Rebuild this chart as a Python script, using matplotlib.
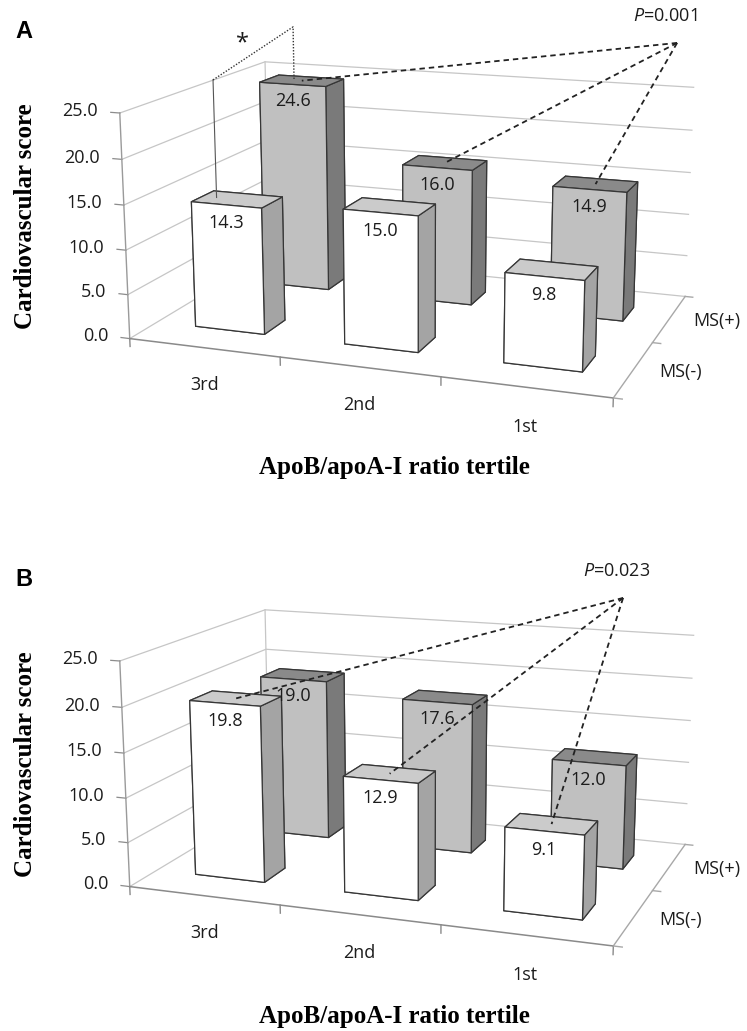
import numpy as np
import matplotlib
matplotlib.use("Agg")
import matplotlib.pyplot as plt
from mpl_toolkits.mplot3d import proj3d

plt.rcParams["font.family"] = ["Open Sans", "DejaVu Sans"]
plt.rcParams["mathtext.fontset"] = "custom"
plt.rcParams["mathtext.it"] = "Open Sans:italic"
plt.rcParams["mathtext.rm"] = "Open Sans"

tertiles = ["3rd", "2nd", "1st"]
groups = ["MS(-)", "MS(+)"]
score_a_neg = [14.3, 15.0, 9.8]
score_a_pos = [24.6, 16.0, 14.9]
score_b_neg = [19.8, 12.9, 9.1]
score_b_pos = [19.0, 17.6, 12.0]
value_ticks = [0, 5, 10, 15, 20, 25]
p_text_a = "$P$=0.001"
p_text_b = "$P$=0.023"

W, H = 747, 1031
# camera tuned so the box sits like the Excel 3-D column chart
ELEV, AZIM, FOCAL = 14.14, -70.09, 0.416
BOX = (1, 0.6704, 0.4640)
ZOOM = 0.8087
CX, CY = 0.5467, 0.7866
SHIFT_B = 548 / H

BAR_W, BAR_D = 0.47, 0.3
# faces: bottom, top, front, back, left, right
NEG_FACES = ["white", "#cbcbcb", "white", "white", "white", "#a4a4a4"]
POS_FACES = ["#c0c0c0", "#8a8a8a", "#c0c0c0", "#c0c0c0", "#c0c0c0", "#7a7a7a"]
TXT = "#1c1c1c"

fig = plt.figure(figsize=(W / 100, H / 100), dpi=100)


def make_axes(shift):
    ax = fig.add_axes([CX - 0.5, CY - shift - 0.5 * W / H, 1, W / H], projection="3d")
    ax.set_proj_type("persp", focal_length=FOCAL)
    ax.view_init(elev=ELEV, azim=AZIM)
    ax.set_box_aspect(BOX, zoom=ZOOM)
    ax.set_xlim(0, len(tertiles))
    ax.set_ylim(0, len(groups))
    ax.set_zlim(0, value_ticks[-1])
    ax.set_axis_off()
    ax.patch.set_facecolor("none")
    ax.computed_zorder = False
    return ax


def label(ax, x, y, z, s, **kw):
    # place text at the projected position of a 3-D point
    px, py, _ = proj3d.proj_transform(x, y, z, ax.get_proj())
    kw.setdefault("fontsize", 13)
    kw.setdefault("color", TXT)
    ax.text2D(px, py, s, transform=ax.transData, **kw)


def draw_panel(ax, neg, pos):
    n = len(tertiles)
    xmax, ymax, zmax = n, len(groups), value_ticks[-1]
    grid = dict(color="#c6c6c6", lw=0.9, zorder=1)
    for z in value_ticks:
        ax.plot([0, 0, xmax], [0, ymax, ymax], [z, z, z], **grid)
        ax.plot([0, -0.06], [0, 0], [z, z], color="#8c8c8c", lw=0.9, zorder=1)
        label(ax, -0.15, 0, z, f"{z:.1f}", ha="right", va="center", zorder=6)
    ax.plot([0, 0], [ymax, ymax], [0, zmax], **grid)
    ax.plot([0, 0], [0, 0], [0, zmax], color="#9a9a9a", lw=1, zorder=1)
    ax.plot([0, xmax], [0, 0], [0, 0], color="#8a8a8a", lw=1.1, zorder=1)
    ax.plot([xmax, xmax], [0, ymax], [0, 0], color="#a8a8a8", lw=1, zorder=1)
    for k in range(n + 1):
        ax.plot([k, k], [0, 0], [0, -0.9], color="#8a8a8a", lw=1, zorder=1)
    for j in range(len(groups) + 1):
        ax.plot([xmax, xmax + 0.05], [j, j], [0, 0], color="#a8a8a8", lw=1, zorder=1)

    xc = np.arange(n) + 0.5
    for k, name in enumerate(tertiles):
        label(ax, xc[k], 0, -4.2, name, ha="center", va="center", zorder=6)
    for j, name in enumerate(groups):
        label(ax, xmax + 0.15, j + 0.5, 0, name, ha="left", va="center", zorder=6)

    xs = np.concatenate([xc, xc]) - BAR_W / 2
    ys = np.repeat([0.5, 1.5], n) - BAR_D / 2
    heights = np.concatenate([neg, pos])
    ax.bar3d(xs, ys, np.zeros_like(heights), BAR_W, BAR_D, heights,
             color=NEG_FACES * n + POS_FACES * n, shade=False,
             edgecolor="#363636", linewidth=0.9, zorder=3)
    for x0, y0, h in zip(xs, ys, heights):
        label(ax, x0 + BAR_W / 2, y0, h - 2.0, f"{h:.1f}", ha="center",
              va="center", zorder=7)
    return xc


def link_lines(ax, apex, xc, yc, vals):
    for x, v in zip(xc, vals):
        ax.plot([apex[0], x], [apex[1], yc], [apex[2], v], color="#222222",
                lw=1.3, ls=(0, (3, 2.2)), zorder=8)


# panel A
ax_a = make_axes(0)
xc = draw_panel(ax_a, score_a_neg, score_a_pos)
apex_a = (2.883, 2.0, 30.0)
link_lines(ax_a, apex_a, xc, 1.5, score_a_pos)
label(ax_a, apex_a[0] - 0.08, apex_a[1], apex_a[2] + 3.0, p_text_a,
      ha="center", va="center", zorder=9)
# significance bracket for the 3rd tertile
star_l = (0.36, 0.5, 27.45)
star_r = (0.444, 1.5, 30.94)
ax_a.plot([star_l[0]] * 2, [star_l[1]] * 2, [score_a_neg[0], star_l[2]],
          color="#555555", lw=0.8, zorder=8)
ax_a.plot([star_l[0], star_r[0], star_r[0]], [star_l[1], star_r[1], star_r[1]],
          [star_l[2], star_r[2], score_a_pos[0]], color="#333333", lw=1.0,
          ls=(0, (1, 1.2)), zorder=8)
label(ax_a, 0.32, 1.0, 30.1, "*", ha="center", va="center", fontsize=17, zorder=9)

# panel B
ax_b = make_axes(SHIFT_B)
xc = draw_panel(ax_b, score_b_neg, score_b_pos)
apex_b = (2.535, 2.0, 28.87)
link_lines(ax_b, apex_b, xc, 0.5, score_b_neg)
label(ax_b, apex_b[0] - 0.05, apex_b[1], apex_b[2] + 3.1, p_text_b,
      ha="center", va="center", zorder=9)

serif = dict(family=["Liberation Serif", "DejaVu Serif"], weight="bold",
             fontsize=18, color="black")
for letter, dy in [("A", 0), ("B", 548)]:
    fig.text(24 / W, 1 - (32 + dy) / H, letter, ha="center", va="center",
             family=["Liberation Sans", "DejaVu Sans"], weight="bold", fontsize=17)
    fig.text(26 / W, 1 - (216 + dy) / H, "Cardiovascular score", rotation=90,
             ha="center", va="center", **serif)
    fig.text(394 / W, 1 - (468 + dy) / H, "ApoB/apoA-I ratio tertile",
             ha="center", va="center", **serif)

fig.savefig("out.png", dpi=100)
